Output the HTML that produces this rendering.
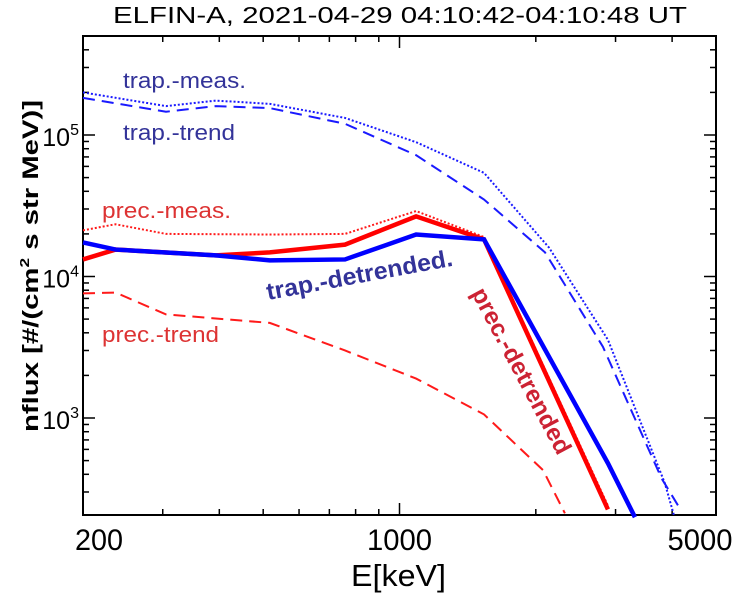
<!DOCTYPE html>
<html><head><meta charset="utf-8"><style>
body{margin:0;background:#fff}
svg{display:block;font-family:"Liberation Sans Narrow","Liberation Sans",sans-serif}
</style></head><body>
<svg id="chart" width="736" height="595">
<text x="113" y="23" font-size="23" textLength="574" lengthAdjust="spacingAndGlyphs">ELFIN-A, 2021-04-29 04:10:42-04:10:48 UT</text>
<g id="axes"></g>
<g id="series"></g>
<text x="123" y="88" font-size="22" fill="#333399" textLength="123" lengthAdjust="spacingAndGlyphs">trap.-meas.</text>
<text x="123" y="140" font-size="22" fill="#333399" textLength="112" lengthAdjust="spacingAndGlyphs">trap.-trend</text>
<text x="102" y="218" font-size="22" fill="#dd3333" textLength="129" lengthAdjust="spacingAndGlyphs">prec.-meas.</text>
<text x="102" y="342" font-size="22" fill="#dd3333" textLength="117" lengthAdjust="spacingAndGlyphs">prec.-trend</text>
<text transform="translate(268,300) rotate(-10.5)" font-size="24" font-weight="bold" fill="#333399" textLength="189" lengthAdjust="spacingAndGlyphs">trap.-detrended.</text>
<text transform="translate(471,293) rotate(62)" font-size="24" font-weight="bold" fill="#cc2233" textLength="185" lengthAdjust="spacingAndGlyphs">prec.-detrended</text>
<text transform="translate(38,266) rotate(-90)" text-anchor="middle" font-size="22" font-weight="bold" textLength="332" lengthAdjust="spacingAndGlyphs">nflux [#/(cm<tspan dy="-9" font-size="13">2</tspan><tspan dy="9"> s str MeV)]</tspan></text>
<text x="351" y="586" font-size="31" textLength="95" lengthAdjust="spacingAndGlyphs">E[keV]</text>
</svg>
<script>
const xTicks=[200,1000,5000];
const xTickText=['200','1000','5000'];
const yTicks=[1e3,1e4,1e5];
const trapMeasE=[200,305,393,517,758,1088,1537,2139,2886,3855,4038];
const trapMeasV=[2.0e5,1.6e5,1.75e5,1.66e5,1.32e5,8.9e4,5.4e4,1.6e4,3.57e3,3.46e2,2.05e2];
const trapTrendE=[200,305,393,517,758,1088,1537,2096,2813,3790,4122];
const trapTrendV=[1.83e5,1.46e5,1.6e5,1.55e5,1.2e5,7.2e4,3.5e4,1.48e4,3.19e3,3.75e2,2.41e2];
const precMeasE=[200,236,305,517,758,1088,1537,2886];
const precMeasV=[2.12e4,2.34e4,2.0e4,1.98e4,2.0e4,2.9e4,1.9e4,2.4e2];
const precDetE=[200,236,393,517,758,1088,1537,2886];
const precDetV=[1.32e4,1.55e4,1.41e4,1.48e4,1.68e4,2.66e4,1.83e4,2.26e2];
const trapDetE=[200,236,393,517,758,1088,1537,2886,3311];
const trapDetV=[1.74e4,1.55e4,1.41e4,1.3e4,1.32e4,1.98e4,1.83e4,4.79e2,1.99e2];
const precTrendE=[200,236,305,517,758,1088,1537,2075,2319];
const precTrendV=[7.6e3,7.7e3,5.4e3,4.7e3,3.0e3,1.9e3,1.06e3,4.28e2,2.12e2];

const L=83,R=716,T=36,B=515;
const X0=Math.log10(200),X1=Math.log10(5000);
const Y1=5+99/141.5,Y0=3-97/141.5;
const xs=e=>L+(Math.log10(e)-X0)/(X1-X0)*(R-L);
const ys=v=>B-(Math.log10(v)-Y0)/(Y1-Y0)*(B-T);
const NS="http://www.w3.org/2000/svg";
const ax=document.getElementById('axes'),sg=document.getElementById('series');
function mk(t,a,p){const e=document.createElementNS(NS,t);for(const k in a)e.setAttribute(k,a[k]);p.appendChild(e);return e;}
const fr=mk('rect',{x:L,y:T,width:R-L,height:B-T,fill:'none',stroke:'#000','stroke-width':2},ax);


for(let d=100;d<=1000;d*=10)for(let m=1;m<10;m++){const e=d*m;if(e<200||e>5000)continue;const x=xs(e);const maj=xTicks.includes(e);const len=maj?12:6;
mk('line',{x1:x,y1:B,x2:x,y2:B-len,stroke:'#000','stroke-width':1.5},ax);mk('line',{x1:x,y1:T,x2:x,y2:T+len,stroke:'#000','stroke-width':1.5},ax);}
const lblW=[48,65,65];
xTicks.forEach((e,i)=>{let cx=xs(e);if(i==0)cx+=16;if(i==2)cx-=16;const t=mk('text',{x:cx-lblW[i]/2,y:550,'font-size':30,textLength:lblW[i],lengthAdjust:'spacingAndGlyphs'},ax);t.textContent=xTickText[i];

});
for(let d=100;d<=1e5;d*=10)for(let m=1;m<10;m++){const v=d*m;const lv=Math.log10(v);if(lv<Y0||lv>Y1)continue;const y=ys(v);const maj=yTicks.includes(v);const len=maj?12:6;
mk('line',{x1:L,y1:y,x2:L+len,y2:y,stroke:'#000','stroke-width':1.5},ax);mk('line',{x1:R,y1:y,x2:R-len,y2:y,stroke:'#000','stroke-width':1.5},ax);}
yTicks.forEach(v=>{const t=mk('text',{x:79,y:ys(v)+11,'text-anchor':'end','font-size':25},ax);
t.innerHTML='10<tspan dy="-11" font-size="16">'+Math.round(Math.log10(v))+'</tspan>';

});
function line(E,V,col,w,dash,name){const p=mk('polyline',{points:E.map((e,i)=>xs(e)+','+ys(V[i])).join(' '),fill:'none',stroke:col,'stroke-width':w,'stroke-dasharray':dash},sg);

}
line(trapMeasE,trapMeasV,'#1a1aff',2,'2 2','trap-meas-line');
line(trapTrendE,trapTrendV,'#1a1aff',2,'12 7','trap-trend-line');
line(precMeasE,precMeasV,'#ff1a1a',2,'2 2','prec-meas-line');
line(precTrendE,precTrendV,'#ff1a1a',2,'12 7','prec-trend-line');
line(precDetE,precDetV,'#ff0000',4.5,'none','prec-detrended-line');
line(trapDetE,trapDetV,'#0000ff',4.5,'none','trap-detrended-line');
</script>
</body></html>
